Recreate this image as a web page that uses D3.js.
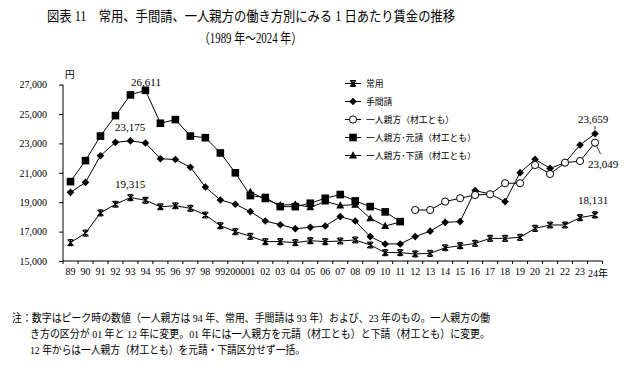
<!DOCTYPE html>
<html>
<head>
<meta charset="utf-8">
<script src="https://cdn.jsdelivr.net/npm/d3@7"></script>
<style>
  body { margin: 0; background: #fff; }
  svg text { font-family: "Liberation Serif", "Noto Sans CJK JP", serif; fill: #000; }
</style>
</head>
<body>
<svg id="chart" width="625" height="385"></svg>
<script>
// 年（横軸）
const years = ["89","90","91","92","93","94","95","96","97","98","99","2000","01","02","03","04","05","06","07","08","09","10","11","12","13","14","15","16","17","18","19","20","21","22","23","24年"];

// 円、null は該当なし
const joyo = [16250,16900,18270,18860,19315,19130,18690,18760,18580,18130,17400,17000,16680,16320,16320,16250,16380,16320,16360,16430,16090,15570,15570,15480,15520,15900,16040,16200,16540,16540,16610,17220,17450,17450,17950,18131];
const temauke = [19670,20350,22160,23070,23175,23030,21960,21900,21380,20030,19150,18860,18360,17720,17470,17200,17290,17380,18020,17720,16660,16160,16160,16660,17030,17630,17680,19790,19560,19040,21010,21920,21300,21690,22890,23659];
const motouke = [20400,21830,23500,24890,26300,26611,24370,24620,23500,23390,22350,21000,19450,19320,18700,18700,18930,19270,19520,19090,18700,18340,17680,null,null,null,null,null,null,null,null,null,null,null,null,null];
const shitauke = [null,null,null,null,null,null,null,null,null,null,null,null,19700,19200,18800,18850,18650,19050,18780,18830,17900,17380,17650,null,null,null,null,null,null,null,null,null,null,null,null,null];
const hitori = [null,null,null,null,null,null,null,null,null,null,null,null,null,null,null,null,null,null,null,null,null,null,null,18470,18470,19040,19270,19490,19540,20290,20290,21530,20920,21690,21800,23049];

const yTicks = [15000,17000,19000,21000,23000,25000,27000];

const series = [
  { name: "常用", values: joyo, marker: "star" },
  { name: "手間請", values: temauke, marker: "diamond" },
  { name: "一人親方（材工とも）", values: hitori, marker: "circle" },
  { name: "一人親方･元請（材工とも）", values: motouke, marker: "square" },
  { name: "一人親方･下請（材工とも）", values: shitauke, marker: "triangle" }
];

const svg = d3.select("#chart");

const x = d3.scaleBand().domain(years).range([63, 602.5]);
const y = d3.scaleLinear().domain([15000, 27000]).range([261, 84.6]);
const cx = d => x(d) + x.bandwidth() / 2;

// タイトル
svg.append("text").attr("x", 47).attr("y", 21).attr("font-size", 14)
  .attr("textLength", 408).attr("lengthAdjust", "spacingAndGlyphs")
  .text("図表 11　常用、手間請、一人親方の働き方別にみる 1 日あたり賃金の推移");
svg.append("text").attr("x", 199).attr("y", 43).attr("font-size", 14)
  .attr("textLength", 103).attr("lengthAdjust", "spacingAndGlyphs")
  .text("（1989 年～2024 年）");

// 縦軸
const yAxis = svg.append("g").attr("transform", "translate(63,0)")
  .call(d3.axisLeft(y).tickValues(yTicks).tickSize(4).tickPadding(12)
    .tickFormat(d3.format(",")));
yAxis.select(".domain").attr("d", `M0,${y(27000)}V${y(15000)}`).attr("stroke", "#000");
yAxis.selectAll("text").attr("font-size", 10).attr("font-family", "Liberation Serif");
svg.append("text").attr("x", 65).attr("y", 78).attr("font-size", 9.5).text("円");

// 横軸
const xAxis = svg.append("g").attr("transform", "translate(0,261)")
  .call(d3.axisBottom(x).tickSize(0).tickPadding(7));
xAxis.select(".domain").attr("d", `M63,0H602.5`).attr("stroke", "#000");
xAxis.selectAll("text").attr("font-size", 10).attr("font-family", "Liberation Serif");
xAxis.selectAll(".tick").filter(d => d === "24年").select("text")
  .attr("dx", 3).attr("dy", "0.9em");
svg.append("g").selectAll("line")
  .data(years.map(d => x(d)).concat([x.range()[1]]))
  .join("line")
  .attr("x1", d => d).attr("x2", d => d)
  .attr("y1", 261).attr("y2", 264)
  .attr("stroke", "#000");

// マーカー
function drawMarker(g, type, px, py) {
  if (type === "star") {
    const s = 3;
    g.append("path")
      .attr("d", `M${px - s},${py - s}L${px + s},${py + s}M${px - s},${py + s}L${px + s},${py - s}M${px},${py - s - 0.5}V${py + s + 0.5}M${px - 2},${py - s}H${px + 2}M${px - 2},${py + s}H${px + 2}`)
      .attr("stroke", "#000").attr("stroke-width", 1.2).attr("fill", "none");
  } else if (type === "diamond") {
    g.append("path").attr("d", `M${px},${py - 3.8}L${px + 3.8},${py}L${px},${py + 3.8}L${px - 3.8},${py}Z`)
      .attr("fill", "#000");
  } else if (type === "circle") {
    g.append("circle").attr("cx", px).attr("cy", py).attr("r", 3.6)
      .attr("fill", "#fff").attr("stroke", "#000").attr("stroke-width", 1);
  } else if (type === "square") {
    g.append("rect").attr("x", px - 3.8).attr("y", py - 3.8).attr("width", 7.6).attr("height", 7.6)
      .attr("fill", "#000");
  } else if (type === "triangle") {
    g.append("path").attr("d", `M${px},${py - 4.2}L${px + 4},${py + 3}L${px - 4},${py + 3}Z`)
      .attr("fill", "#000");
  }
}

const line = d3.line()
  .defined(d => d.v != null)
  .x(d => cx(d.year))
  .y(d => y(d.v));

const plot = svg.append("g");
series.forEach(s => {
  const pts = years.map((yr, i) => ({ year: yr, v: s.values[i] }));
  plot.append("path").datum(pts).attr("d", line)
    .attr("fill", "none").attr("stroke", "#000").attr("stroke-width", 1);
  const mg = plot.append("g");
  pts.filter(p => p.v != null).forEach(p => drawMarker(mg, s.marker, cx(p.year), y(p.v)));
});

// 凡例
const legend = svg.append("g");
series.forEach((s, i) => {
  const ly = 83.5 + i * 18;
  legend.append("line").attr("x1", 345).attr("x2", 361).attr("y1", ly).attr("y2", ly)
    .attr("stroke", "#000").attr("stroke-width", 1);
  drawMarker(legend, s.marker, 353, ly);
  legend.append("text").attr("x", 366).attr("y", ly + 3.3).attr("font-size", 8.8).text(s.name);
});

// 数値ラベル
const labelFmt = d3.format(",");
const ann = svg.append("g").attr("font-size", 11);
ann.append("text").attr("x", 146).attr("y", 86).attr("text-anchor", "middle").attr("font-size", 11)
  .text(labelFmt(motouke[5]));
ann.append("text").attr("x", 130).attr("y", 131).attr("text-anchor", "middle").attr("font-size", 11)
  .text(labelFmt(temauke[4]));
ann.append("text").attr("x", 130).attr("y", 188).attr("text-anchor", "middle").attr("font-size", 11)
  .text(labelFmt(joyo[4]));
const xl = cx("24年");
ann.append("text").attr("x", xl - 2).attr("y", 123).attr("text-anchor", "middle").attr("font-size", 11)
  .text(labelFmt(temauke[35]));
svg.append("line").attr("x1", xl).attr("x2", xl).attr("y1", 126).attr("y2", y(temauke[35]) - 4)
  .attr("stroke", "#000").attr("stroke-width", 0.8);
ann.append("text").attr("x", 603).attr("y", 168).attr("text-anchor", "middle").attr("font-size", 11)
  .text(labelFmt(hitori[35]));
svg.append("line").attr("x1", xl + 1.5).attr("x2", xl + 5.5).attr("y1", y(hitori[35]) + 3).attr("y2", 154)
  .attr("stroke", "#000").attr("stroke-width", 0.8);
ann.append("text").attr("x", xl - 2).attr("y", 204).attr("text-anchor", "middle").attr("font-size", 11)
  .text(labelFmt(joyo[35]));

// 注
const notes = [
  { x: 12, t: "注：数字はピーク時の数値（一人親方は 94 年、常用、手間請は 93 年）および、23 年のもの。一人親方の働", w: 478 },
  { x: 30, t: "き方の区分が 01 年と 12 年に変更。01 年には一人親方を元請（材工とも）と下請（材工とも）に変更。", w: 460 },
  { x: 30, t: "12 年からは一人親方（材工とも）を元請・下請区分せず一括。", w: 275 }
];
notes.forEach((n, i) => {
  svg.append("text").attr("x", n.x).attr("y", 322 + i * 16).attr("font-size", 11)
    .attr("textLength", n.w).attr("lengthAdjust", "spacingAndGlyphs").text(n.t);
});
</script>
</body>
</html>
